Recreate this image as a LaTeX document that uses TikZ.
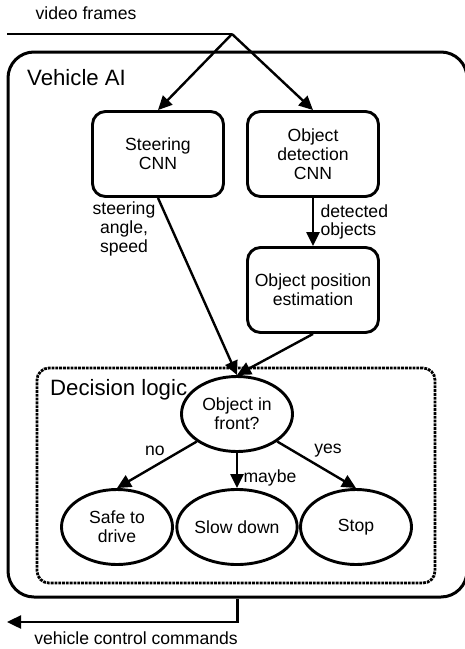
\documentclass[tikz,border=0pt]{standalone}
\usepackage{fontspec}
\setmainfont{Liberation Sans}
\usetikzlibrary{arrows.meta,shapes.geometric}

\newcommand{\DiagText}{\fontsize{17.6}{18.8}\selectfont}
\newcommand{\BigText}{\fontsize{22.2}{24}\selectfont}

\tikzset{
  unit/.style={draw, line width=2.9pt, rounded corners=13pt, minimum width=131pt,
    minimum height=85pt, align=center, inner sep=0pt},
  choice/.style={draw, ellipse, line width=2.9pt, minimum width=111pt,
    minimum height=75pt, align=center, inner sep=0pt},
  flow/.style={line width=2.4pt, -{Triangle[length=14pt,width=13pt]}},
}

\begin{document}
\begin{tikzpicture}[x=1pt,y=-1pt,font=\DiagText]
    \useasboundingbox (0,0) rectangle (465,649);
    % outer and inner frames
    \node[draw, line width=3pt, rounded corners=26pt, minimum width=459pt,
      minimum height=545pt, inner sep=0pt] (ai) at (237.5,324.5) {};
    \node[draw, line width=2.8pt, densely dotted, rounded corners=12pt, minimum width=398pt,
      minimum height=215pt, inner sep=0pt] (dl) at (236,475.5) {};
    \draw(27,78) node[anchor=west, inner sep=0pt, font=\BigText]{Vehicle AI};
    \draw(50,390) node[anchor=west, inner sep=0pt, font=\BigText]{Decision logic};
    %
    \node[unit] (steer) at (158,154) {Steering\\CNN};
    \node[unit] (detect) at (313,154) {Object\\detection\\CNN};
    \node[unit] (pos) at (313,290) {Object position\\estimation};
    \node[choice] (front) at (237,414) {Object in\\front?};
    \node[choice] (safe) at (117,527) {Safe to\\drive};
    \node[choice] (slow) at (237,527) {Slow down};
    \node[choice] (stop) at (356,527) {Stop};
    %
    \coordinate (vin) at (7,34);
    \coordinate (split) at (232,34);
    \coordinate (cmd) at (7,622);
    \draw(86,13) node (vlabel){video frames};
    \draw[line width=2.4pt] (vin) -- (split);
    \draw[flow] (split) -- (steer.north);
    \draw[flow] (split) -- (detect.north);
    \draw[flow] (detect) -- (pos);
    \draw[flow] (steer.south) -- (front.north);
    \draw[flow] (pos.south) -- (front.north);
    \draw[flow] (front.south west) -- (safe.north);
    \draw[flow] (front) -- (slow);
    \draw[flow] (front.south east) -- (stop.north);
    \draw[flow] (ai.south) |- (cmd);
    %
    \draw(124,229) node[align=center] (speedlabel){steering\\angle,\\speed};
    \draw(317,222) node[anchor=west, align=left] (objlabel){detected\\objects};
    \draw(155,451) node (nolabel){no};
    \draw(240,478) node[anchor=west] (maybelabel){maybe};
    \draw(328,451) node (yeslabel){yes};
    \draw(136,638) node (cmdlabel){vehicle control commands};
  \end{tikzpicture}
\end{document}
